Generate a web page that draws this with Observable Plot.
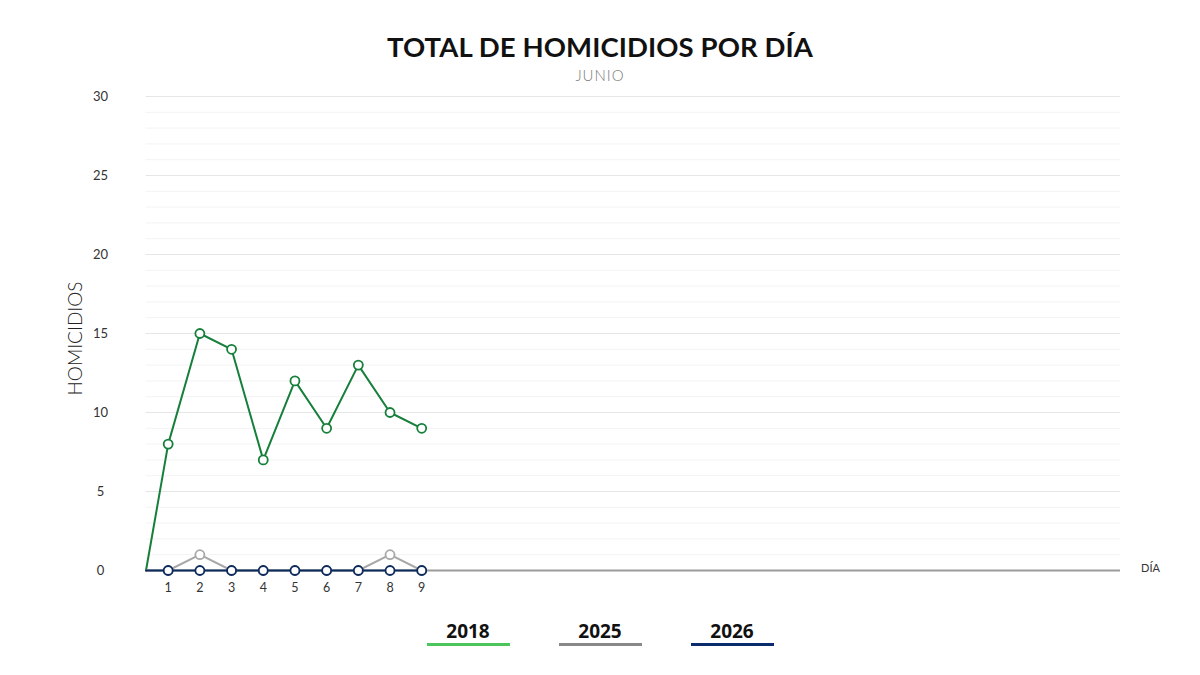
<!DOCTYPE html>
<html>
<head>
<meta charset="utf-8">
<script src="https://cdn.jsdelivr.net/npm/d3@7"></script>
<script src="https://cdn.jsdelivr.net/npm/@observablehq/plot@0.6"></script>
<style>
  html, body { margin: 0; padding: 0; background: #fff; }
  body { width: 1200px; height: 675px; overflow: hidden; font-family: Lato, "Open Sans", sans-serif; }
  #title { height: 85px; text-align: center; position: relative; }
  #title h1 { margin: 0; position: absolute; left: 0; right: 0; top: 30px; font-size: 27.5px; font-weight: 700; color: #111; letter-spacing: 0.1px; }
  #title h2 { margin: 0; position: absolute; left: 0; right: 0; top: 66px; font-size: 15px; font-weight: 300; color: #7a7a7a; letter-spacing: 1px; }
  #chart svg { display: block; }
  #legend { display: flex; justify-content: center; gap: 49px; margin-top: 14px; }
  .item { width: 83px; text-align: center; font-family: "Open Sans", sans-serif; font-weight: 700; font-size: 19px; line-height: 24px; color: #111; border-bottom: 3px solid; padding-bottom: 0px; }
</style>
</head>
<body>
<div id="title"><h1>TOTAL DE HOMICIDIOS POR DÍA</h1><h2>JUNIO</h2></div>
<div id="chart"></div>
<div id="legend"></div>
<script>
const days = [1, 2, 3, 4, 5, 6, 7, 8, 9];
const values2018 = [8, 15, 14, 7, 12, 9, 13, 10, 9];
const values2025 = [0, 1, 0, 0, 0, 0, 0, 1, 0];
const values2026 = [0, 0, 0, 0, 0, 0, 0, 0, 0];
const years = ["2018", "2025", "2026"];
const lineColors = ["#167f3b", "#a8a8a8", "#0c2a5c"];
const legendColors = ["#4cc65a", "#888888", "#0b2c6c"];
const yTicks = [0, 5, 10, 15, 20, 25, 30];
const minorTicks = d3.range(1, 30).filter(v => v % 5 !== 0);
const majorTicks = [5, 10, 15, 20, 25, 30];
const xStart = 0.3, xEnd = 31.05;

const seriesValues = [values2018, values2025, values2026];
const series = years.map((year, i) => {
  const pts = days.map((d, j) => ({day: d, value: seriesValues[i][j], year}));
  return {year, color: lineColors[i], pts, line: [{day: xStart, value: 0, year}, ...pts]};
});

const marks = [
  Plot.ruleY(minorTicks, {stroke: "#f3f3f3", strokeWidth: 1}),
  Plot.ruleY(majorTicks, {stroke: "#e6e6e6", strokeWidth: 1}),
  Plot.ruleY([0], {stroke: "#9c9c9c", strokeWidth: 2}),
  Plot.text(yTicks, {frameAnchor: "left", y: d => d, dx: -45.5, textAnchor: "middle", text: d => String(d), fill: "#333", fontSize: 13}),
  Plot.text(days, {x: d => d, y: 0, dy: 17, text: d => String(d), fill: "#333", fontSize: 12.5}),
  Plot.text(["DÍA"], {x: xEnd, y: 0, dx: 30, dy: -2, text: d => d, fill: "#333", fontSize: 11}),
  Plot.text(["HOMICIDIOS"], {frameAnchor: "left", textAnchor: "middle", dx: -70.5, dy: 5, rotate: -90, text: d => d, fill: "#222", fontSize: 19, fontWeight: 300})
];
for (const s of series) {
  marks.push(Plot.line(s.line, {x: "day", y: "value", stroke: s.color, strokeWidth: 2}));
  marks.push(Plot.dot(s.pts, {x: "day", y: "value", r: 4.5, fill: "#fff", stroke: s.color, strokeWidth: 1.8}));
}

const chart = Plot.plot({
  width: 1200,
  height: 520,
  marginLeft: 145.5,
  marginRight: 80,
  marginTop: 11,
  marginBottom: 35,
  style: {fontFamily: "Lato, 'Open Sans', sans-serif", background: "#fff"},
  x: {domain: [xStart, xEnd], axis: null},
  y: {domain: [0, 30], axis: null},
  marks
});
document.getElementById("chart").appendChild(chart);

const legend = document.getElementById("legend");
years.forEach((y, i) => {
  const el = document.createElement("div");
  el.className = "item";
  el.textContent = y;
  el.style.borderBottomColor = legendColors[i];
  legend.appendChild(el);
});
</script>
</body>
</html>
